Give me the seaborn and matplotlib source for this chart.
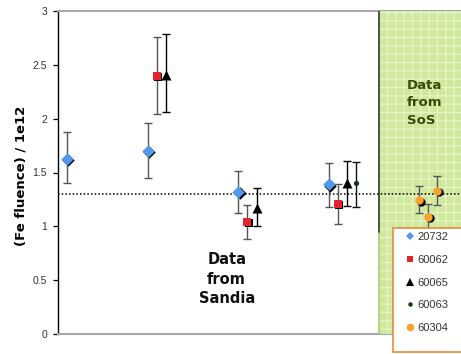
import matplotlib
matplotlib.use("Agg")
import matplotlib.pyplot as plt
import numpy as np
import pandas as pd
import seaborn as sns
from matplotlib.patches import Rectangle
from matplotlib.lines import Line2D
from matplotlib.transforms import ScaledTranslation

# ---- data -------------------------------------------------------------
series = ["20732", "60062", "60065", "60063", "60304"]
x_pos = [0.1, 1.0, 1.1, 1.2, 2.0, 2.1, 2.2, 3.0, 3.1, 3.2, 3.3, 4.0, 4.1, 4.2]
run = ["20732", "20732", "60062", "60065",
       "20732", "60062", "60065",
       "20732", "60062", "60065", "60063",
       "60304", "60304", "60304"]
fluence = [1.63, 1.70, 2.40, 2.41, 1.32, 1.04, 1.17, 1.39, 1.21, 1.40, 1.40, 1.24, 1.09, 1.33]
err_low = [1.40, 1.45, 2.04, 2.06, 1.12, 0.88, 1.00, 1.18, 1.02, 1.19, 1.18, 1.12, 0.97, 1.20]
err_high = [1.88, 1.96, 2.76, 2.79, 1.51, 1.20, 1.36, 1.59, 1.39, 1.61, 1.60, 1.37, 1.21, 1.47]
reference_level = 1.3
y_ticks = [0, 0.5, 1, 1.5, 2, 2.5, 3]
y_tick_labels = ["0", "0.5", "1", "1.5", "2", "2.5", "3"]
sos_start, x_max = 3.552, 4.46

# ---- styling ----------------------------------------------------------
colors = {"20732": "#5299ec", "60062": "#e3242e", "60065": "#000000",
          "60063": "#0b3d0b", "60304": "#f7a12e"}
markers = {"20732": "D", "60062": "s", "60065": "^", "60063": "o", "60304": "o"}
sizes = {"20732": 40, "60062": 36, "60065": 52, "60063": 14, "60304": 36}
bar_colors = {"20732": "#555555", "60062": "#555555", "60065": "#000000",
              "60063": "#111111", "60304": "#555555"}
legend_sizes = {"20732": 4.5, "60062": 4.8, "60065": 5.5, "60063": 3.2, "60304": 5.5}

df = pd.DataFrame({"x": x_pos, "run": run, "fluence": fluence,
                   "low": err_low, "high": err_high})

sns.set_theme(style="white")
plt.rcParams["font.family"] = ["Liberation Sans", "DejaVu Sans"]
plt.rcParams["hatch.color"] = "#e6f4c8"
plt.rcParams["hatch.linewidth"] = 0.9

W, H = 461, 354
fig = plt.figure(figsize=(W / 100, H / 100), dpi=100)
ax = fig.add_axes([57.5 / W, 20 / H, (W - 57.5) / W, 323 / H])
ax.set_xlim(0, x_max)
ax.set_ylim(0, 3)

# SoS shaded region
ax.add_patch(Rectangle((sos_start, 0), x_max - sos_start + 0.1, 3,
                       facecolor="#cfe89c", edgecolor="#e6f4c8", hatch="++",
                       linewidth=0, zorder=3, clip_on=False))
ax.plot([sos_start, sos_start], [0.94, 3], color="#222222", lw=1.1, zorder=3.2)
ax.plot([sos_start, sos_start], [0, 0.94], color="#a6c868", lw=1.1, zorder=3.2)

# reference level
ax.axhline(reference_level, color="black", lw=1.1, ls=(0, (1, 1.4)), zorder=3.5)

# error bars
for r in series:
    sub = df[df.run == r]
    ax.errorbar(sub.x, sub.fluence,
                yerr=[sub.fluence - sub.low, sub.high - sub.fluence],
                fmt="none", ecolor=bar_colors[r], elinewidth=1.0,
                capsize=3, capthick=1.0, zorder=4)

# markers with a small drop shadow
shadow = ScaledTranslation(1.3 / 100, -1.3 / 100, fig.dpi_scale_trans)
for r in series:
    sub = df[df.run == r]
    if r not in ("60065", "60063"):
        sns.scatterplot(data=sub, x="x", y="fluence", marker=markers[r],
                        color="black", s=sizes[r], linewidth=0, ax=ax,
                        zorder=4.5, legend=False)
        ax.collections[-1].set_offset_transform(ax.transData + shadow)
    sns.scatterplot(data=sub, x="x", y="fluence", marker=markers[r],
                    color=colors[r], s=sizes[r], linewidth=0, ax=ax,
                    zorder=5, legend=False)

# axes styling
ax.spines["right"].set_visible(False)
ax.spines["left"].set_color("black")
ax.spines["left"].set_linewidth(1.0)
for side in ["top", "bottom"]:
    ax.spines[side].set_color("#a8a8a8")
    ax.spines[side].set_linewidth(1.5)
ax.set_xticks([])
ax.set_yticks(y_ticks)
ax.set_yticklabels(y_tick_labels)
ax.tick_params(axis="y", left=True, direction="out", length=3.5, width=0.9,
               color="black", pad=4, labelsize=7.5, labelcolor="#333333")
ax.set_xlabel("")
ax.set_ylabel("")
fig.text(21 / W, 1 - 176 / H, "(Fe fluence) / 1e12", rotation=90,
         ha="center", va="center", fontsize=9.5, fontweight="bold",
         family="DejaVu Sans", color="black")

ax.text(1.87, 0.51, "Data\nfrom\nSandia", ha="center", va="center",
        fontsize=10.5, fontweight="bold", family="DejaVu Sans",
        linespacing=1.4, color="#111111", zorder=6)
ax.text(3.865, 2.15, "Data\nfrom\nSoS", ha="left", va="center",
        fontsize=9.5, fontweight="bold", family="DejaVu Sans",
        linespacing=1.45, color="#364a08", zorder=6)

# legend box
fig.patches.append(Rectangle((393 / W, 2 / H), 75 / W, 124 / H,
                             transform=fig.transFigure, facecolor="white",
                             edgecolor="#ea8a3a", linewidth=1.2, zorder=6))
handles = [Line2D([], [], ls="none", marker=markers[r], color=colors[r],
                  markersize=legend_sizes[r], markeredgewidth=0) for r in series]
leg = fig.legend(handles, series, loc="upper left",
                 bbox_to_anchor=(406 / W, 1 - 232 / H),
                 bbox_transform=fig.transFigure, frameon=False,
                 fontsize=8, handlelength=0.8, handletextpad=0.25,
                 labelspacing=1.15, borderpad=0, borderaxespad=0)
for t in leg.get_texts():
    t.set_color("#333333")
leg.set_zorder(7)

fig.savefig("out.png", dpi=100)
